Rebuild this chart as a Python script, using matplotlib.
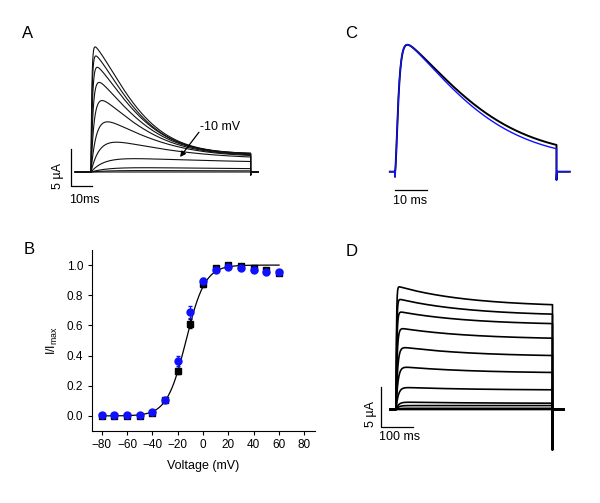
import numpy as np
import matplotlib
matplotlib.use("Agg")
import matplotlib.pyplot as plt

plt.rcParams["font.family"] = ["Liberation Sans", "DejaVu Sans"]
plt.rcParams["mathtext.default"] = "regular"

# ---- data ----
# panel A: family of currents (uA), 75 ms pulses
a_pulse_ms = 76
a_peak = [16.7, 15.5, 14.0, 12.0, 9.6, 6.8, 4.1, 1.85, 0.6, 0.2, 0.0]
a_end = [2.5, 2.5, 2.45, 2.4, 2.3, 2.2, 2.0, 1.4, 0.45, 0.15, 0.0]
a_rise = [0.4, 0.5, 0.7, 1.0, 1.5, 2.5, 4.0, 6.0, 8.0, 8.0, 8.0]
a_tau = [24, 24, 25, 26, 28, 32, 40, 60, 80, 80, 80]
a_tail_spike = -0.4

# panel B: normalised activation curve
voltage = [-80, -70, -60, -50, -40, -30, -20, -10, 0, 10, 20, 30, 40, 50, 60]
norm_black = [0.0, 0.0, 0.0, 0.0, 0.018, 0.104, 0.30, 0.61, 0.872, 0.978, 1.0, 0.991, 0.982, 0.97, 0.95]
err_black = [0.003, 0.003, 0.003, 0.003, 0.005, 0.01, 0.02, 0.03, 0.015, 0.01, 0.01, 0.005, 0.005, 0.01, 0.01]
norm_blue = [0.005, 0.003, 0.005, 0.005, 0.028, 0.104, 0.364, 0.69, 0.894, 0.97, 0.99, 0.978, 0.967, 0.956, 0.951]
err_blue = [0.005, 0.003, 0.005, 0.005, 0.008, 0.01, 0.035, 0.04, 0.02, 0.01, 0.01, 0.01, 0.01, 0.01, 0.01]
v_half, slope_k = -13.5, 7.5

# panel C: recorded trace (black) and model fit (blue), normalised
c_pulse_ms = 50
c_end = {"rec": 0.21, "fit": 0.18}
c_tau = {"rec": 28, "fit": 27}
c_rise = 0.8
c_on_spike, c_off_spike = -0.04, -0.065

# panel D: family of currents (uA), 480 ms pulses
d_pulse_ms = 480
d_peak = [15.6, 14.0, 12.4, 10.3, 7.9, 5.4, 2.8, 0.93, 0.5, 0.15, 0.0]
d_end = [13.3, 12.1, 10.9, 9.05, 6.85, 4.7, 2.5, 0.8, 0.5, 0.15, 0.0]
d_rise = [1.5, 2.0, 2.5, 3.5, 5.0, 6.0, 7.0, 8.0, 8.0, 8.0, 8.0]
d_tau = 220
d_tail_spike = -5.1


def kinetic(t, peak, end, t_rise, tau, T, beta=1.0, n=1):
    act = (1 - np.exp(-t / t_rise)) ** n
    inact = np.exp(-(t / tau) ** beta)
    inact_T = np.exp(-(T / tau) ** beta)
    trans = act * (inact - inact_T) / (1 - inact_T)
    trans = trans / trans.max()
    return act * end + (peak - end) * trans


def sweep(ax, T, t_pre, t_post, I_fun, spike, on_spike=0.0, **kw):
    t = np.linspace(0, T, 1500)
    I = I_fun(t)
    x = np.concatenate([[t_pre, 0, 0], t, [T, T + T * 0.003, t_post]])
    y = np.concatenate([[0, 0, on_spike], I, [spike, 0, 0]])
    ax.plot(x, y, **kw)


W, H = 600, 503
fig = plt.figure(figsize=(6, 5.03), dpi=100)


def trace_axes(box, origin, scale):
    l, t, r, b = box
    ax = fig.add_axes([l / W, 1 - b / H, (r - l) / W, (b - t) / H])
    ax.set_xlim((l - origin[0]) / scale[0], (r - origin[0]) / scale[0])
    ax.set_ylim((origin[1] - b) / scale[1], (origin[1] - t) / scale[1])
    ax.axis("off")
    return ax


# ---- A ----
axA = trace_axes((30, 30, 290, 215), (91, 172), (2.1, 7.5))
for pk, en, tr, tau in zip(a_peak, a_end, a_rise, a_tau):
    sweep(axA, a_pulse_ms, -7.5, 79.5,
          lambda t: kinetic(t, pk, en, tr, tau, a_pulse_ms, beta=1.4),
          a_tail_spike, color="#111111", lw=0.8)
axA.plot([-9.7, -9.7, 0.3], [3.13, -1.87, -1.87], color="black", lw=0.9)
axA.text(-15.7, -0.5, "5 µA", rotation=90, ha="center", va="center", fontsize=9)
axA.text(-3.0, -3.73, "10ms", ha="center", va="center", fontsize=9)
axA.annotate("", xy=(42.4, 2.0), xytext=(51.4, 5.3),
             arrowprops=dict(arrowstyle="-|>", color="black", lw=0.9,
                             mutation_scale=8, shrinkA=0, shrinkB=0))
axA.text(61.4, 6.04, "-10 mV", ha="center", va="center", fontsize=9)

# ---- C ----
axC = trace_axes((380, 30, 590, 215), (395, 171.7), (3.23, 127.4))
for key, col, lw in [("rec", "black", 1.4), ("fit", "#1010ff", 1.0)]:
    sweep(axC, c_pulse_ms, -1.6, 54.1,
          lambda t: kinetic(t, 1.0, c_end[key], c_rise, c_tau[key], c_pulse_ms, beta=1.4, n=2),
          c_off_spike, on_spike=c_on_spike, color=col, lw=lw)
axC.plot([0, 10], [-0.1436, -0.1436], color="black", lw=0.9)
axC.text(4.8, -0.23, "10 ms", ha="center", va="center", fontsize=9)

# ---- D ----
axD = trace_axes((340, 260, 590, 470), (396, 409.5), (0.326, 7.88))
for pk, en, tr in zip(d_peak, d_end, d_rise):
    sweep(axD, d_pulse_ms, -18.4, 515,
          lambda t: kinetic(t, pk, en, tr, d_tau, d_pulse_ms),
          d_tail_spike, color="black", lw=1.2)
axD.plot([-46.9, -46.9, 53.1], [2.82, -2.18, -2.18], color="black", lw=0.9)
axD.text(-76.7, -0.57, "5 µA", rotation=90, ha="center", va="center", fontsize=9)
axD.text(12.3, -3.55, "100 ms", ha="center", va="center", fontsize=9)

# ---- B ----
axB = fig.add_axes([91.7 / W, 1 - 431 / H, (314.5 - 91.7) / W, (431 - 250) / H])
v_fit = np.linspace(-80, 60, 300)
axB.plot(v_fit, 1 / (1 + np.exp((v_half - v_fit) / slope_k)), color="black", lw=0.9, zorder=2)
axB.errorbar(voltage, norm_black, yerr=err_black, fmt="s", color="black", ms=4,
             elinewidth=0.8, capsize=1.5, zorder=3)
axB.errorbar(voltage, norm_blue, yerr=err_blue, fmt="o", color="#1010ff", ms=5,
             elinewidth=0.8, capsize=1.5, zorder=4)
axB.set_xlim(-88, 88)
axB.set_ylim(-0.1, 1.1)
axB.set_xticks(range(-80, 81, 20))
axB.set_yticks([0.0, 0.2, 0.4, 0.6, 0.8, 1.0])
axB.set_yticklabels([f"{v:.1f}" for v in [0.0, 0.2, 0.4, 0.6, 0.8, 1.0]])
axB.spines["top"].set_visible(False)
axB.spines["right"].set_visible(False)
for s in ["left", "bottom"]:
    axB.spines[s].set_linewidth(0.8)
axB.tick_params(direction="out", length=3, width=0.8, labelsize=8.5, pad=3)
axB.set_xlabel("Voltage (mV)", fontsize=9, labelpad=6)
axB.set_ylabel("I/I$_{max}$", fontsize=9, labelpad=5)

# panel letters
for lab, (px, py) in {"A": (28, 33), "B": (29, 250), "C": (351, 33), "D": (352, 251)}.items():
    fig.text(px / W, 1 - py / H, lab, ha="center", va="center", fontsize=12)

fig.savefig("out.png", dpi=100)
